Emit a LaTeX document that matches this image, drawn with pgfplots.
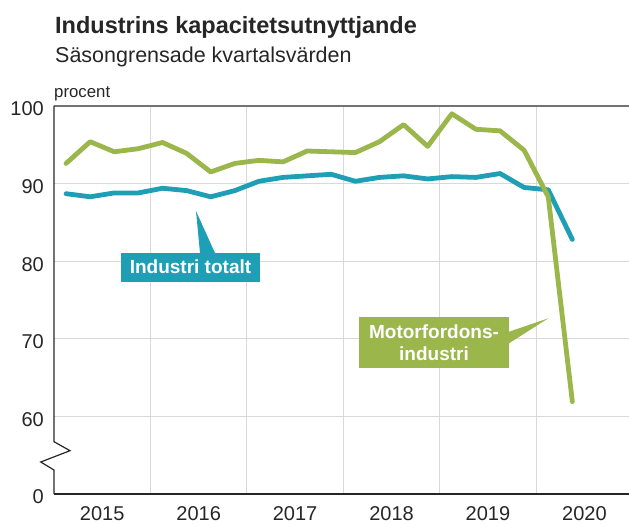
\documentclass[border=0pt]{standalone}
\usepackage{pgfplots}
\pgfplotsset{compat=1.18}
\usepackage{fontspec}
\setmainfont{Liberation Sans}
\definecolor{teal1}{HTML}{1F9FB6}
\definecolor{green1}{HTML}{9BB64A}
\definecolor{gridc}{HTML}{D9D9D9}
\pgfplotstableread{
x y
0.5 92.6
1.5 95.4
2.5 94.1
3.5 94.5
4.5 95.3
5.5 93.9
6.5 91.5
7.5 92.6
8.5 93.0
9.5 92.8
10.5 94.2
11.5 94.1
12.5 94.0
13.5 95.4
14.5 97.6
15.5 94.8
16.5 99.0
17.5 97.0
18.5 96.8
19.5 94.3
20.5 88.3
21.5 61.9
}\motor
\pgfplotstableread{
x y
0.5 88.7
1.5 88.3
2.5 88.8
3.5 88.8
4.5 89.4
5.5 89.1
6.5 88.3
7.5 89.1
8.5 90.3
9.5 90.8
10.5 91.0
11.5 91.2
12.5 90.3
13.5 90.8
14.5 91.0
15.5 90.6
16.5 90.9
17.5 90.8
18.5 91.3
19.5 89.5
20.5 89.2
21.5 82.8
}\total
\begin{document}
\begin{tikzpicture}
\useasboundingbox (-54pt,-29pt) rectangle (575pt,494pt);
\begin{axis}[
  at={(0pt,0pt)}, anchor=south west,
  scale only axis, width=575pt, height=388pt,
  xmin=0, xmax=23.85, ymin=50, ymax=100,
  axis line style={draw=none},
  tick style={draw=none},
  xtick={2,6,10,14,18,22},
  xticklabels={2015,2016,2017,2018,2019,2020},
  minor xtick={4,8,12,16,20},
  ytick={50,60,70,80,90,100},
  yticklabels={0,60,70,80,90,100},
  xminorgrids, ymajorgrids,
  minor grid style={gridc, line width=1.2pt},
  major grid style={gridc, line width=1.2pt},
  /pgf/number format/assume math mode=true,
  ticklabel style={font=\fontsize{20}{24}\selectfont, inner sep=0pt, text=black!85},
  xticklabel style={anchor=north, yshift=-12pt},
  yticklabel style={anchor=east, xshift=-10pt, yshift=-3pt},
  clip=false,
]
\addplot[teal1, line width=4.8pt, line join=round, line cap=round] table[x=x,y=y] {\total};
\addplot[green1, line width=4.8pt, line join=round, line cap=round] table[x=x,y=y] {\motor};
\end{axis}
% axis lines
\draw[black!55, line width=1.3pt] (0pt,388pt) -- (575pt,388pt);
\draw[black!85, line width=1.3pt] (0pt,0pt) -- (575pt,0pt);
\draw[black!85, line width=1.2pt, line join=miter] (0pt,388pt) -- (0pt,52.3pt) -- (16pt,43.3pt) -- (-13.3pt,32pt) -- (0pt,24pt) -- (0pt,0pt);
% titles
\node[anchor=base west, inner sep=0pt, font=\bfseries\fontsize{23.5}{28}\selectfont, text=black!85] at (1pt,460.7pt) {Industrins kapacitetsutnyttjande};
\node[anchor=base west, inner sep=0pt, font=\fontsize{21.5}{26}\selectfont, text=black!85] at (1pt,431pt) {Säsongrensade kvartalsvärden};
\node[anchor=base west, inner sep=0pt, font=\fontsize{16.8}{20}\selectfont, text=black!85] at (0pt,396pt) {procent};
% labels
\fill[teal1] (142pt,283pt) -- (146pt,241pt) -- (161pt,241pt) -- cycle;
\fill[teal1] (67pt,212.3pt) rectangle (206pt,241.3pt);
\node[font=\bfseries\fontsize{19}{22}\selectfont, text=white, inner sep=0pt] at (136.5pt,226.8pt) {Industri totalt};
\fill[green1] (494.3pt,175.7pt) -- (455pt,162.3pt) -- (455pt,150.7pt) -- cycle;
\fill[green1] (305pt,126pt) rectangle (455pt,177pt);
\node[font=\bfseries\fontsize{19}{21.7}\selectfont, text=white, inner sep=0pt, align=center] at (380pt,151.5pt) {Motorfordons-\\industri};
\end{tikzpicture}
\end{document}
